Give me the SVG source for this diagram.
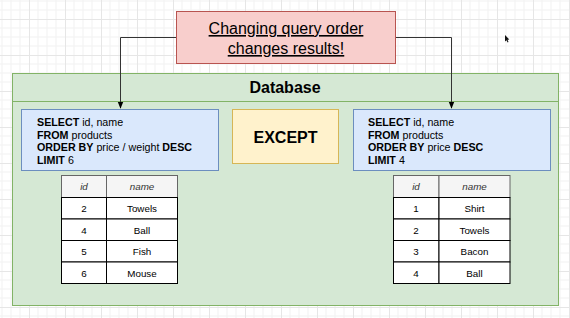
<svg xmlns="http://www.w3.org/2000/svg" width="570" height="318" viewBox="0 0 570 318">
  <defs>
    <pattern id="grid" x="29" y="19" width="36" height="36" patternUnits="userSpaceOnUse">
      <rect width="36" height="36" fill="#ffffff"/>
      <path d="M9 0V36M18 0V36M27 0V36M0 9H36M0 18H36M0 27H36" stroke="#f2f2f2" stroke-width="1" fill="none"/>
      <path d="M0.5 0V36M0 0.5H36" stroke="#e6e6e6" stroke-width="1" fill="none"/>
    </pattern>
    <marker id="arrow" viewBox="0 0 10 10" refX="9" refY="5" markerWidth="7" markerHeight="7" orient="auto">
      <path d="M0 1L10 5L0 9Z" fill="#000"/>
    </marker>
    <style>
      .sans { font-family: "Liberation Sans", Arial, Helvetica, sans-serif; }
      .sql { font-size: 10.7px; fill: #000; }
      .sql .kw { font-weight: bold; }
      .hdr { fill: #f5f5f5; stroke: #666666; stroke-width: 1; }
      .cell { fill: #ffffff; stroke: #000000; stroke-width: 1; }
      .th { font-size: 9.8px; font-style: italic; fill: #333333; text-anchor: middle; }
      .td { font-size: 9.8px; fill: #000000; text-anchor: middle; }
      .query { fill: #dae8fc; stroke: #6c8ebf; stroke-width: 1; }
    </style>
  </defs>

  <rect width="570" height="318" fill="url(#grid)"/>

  <!-- Database container -->
  <g id="database">
    <rect x="12.5" y="73.5" width="546" height="232" fill="#d5e8d4" stroke="#82b366" stroke-width="1"/>
    <line x1="12.5" y1="101.5" x2="558.5" y2="101.5" stroke="#82b366" stroke-width="1"/>
    <text x="285" y="93" class="sans" font-size="16" font-weight="bold" text-anchor="middle" fill="#000">Database</text>
  </g>

  <!-- Connectors -->
  <g id="connectors" fill="none" stroke="#333333" stroke-width="1">
    <path d="M176 37.5H120.5V108" marker-end="url(#arrow)"/>
    <path d="M395 37.5H451.5V108" marker-end="url(#arrow)"/>
  </g>

  <!-- Title note -->
  <g id="title">
    <rect x="176.5" y="11.5" width="219" height="52" fill="#f8cecc" stroke="#b85450" stroke-width="1"/>
    <text class="sans" font-size="16" text-anchor="middle" fill="#000" text-decoration="underline"><tspan x="286" y="34">Changing query order</tspan><tspan x="286" y="54">changes results!</tspan></text>
  </g>

  <!-- Left query -->
  <g id="query-left">
    <rect class="query" x="21.5" y="109.5" width="197" height="61"/>
    <text class="sans sql" x="37" y="126"><tspan class="kw">SELECT</tspan> id, name</text>
    <text class="sans sql" x="37" y="138.5"><tspan class="kw">FROM</tspan> products</text>
    <text class="sans sql" x="37" y="151"><tspan class="kw">ORDER BY</tspan> price / weight <tspan class="kw">DESC</tspan></text>
    <text class="sans sql" x="37" y="163.5"><tspan class="kw">LIMIT</tspan> 6</text>
  </g>

  <!-- EXCEPT operator -->
  <g id="except">
    <rect x="232.5" y="109.5" width="106" height="54" fill="#fff2cc" stroke="#d6b656" stroke-width="1"/>
    <text x="285.5" y="143" class="sans" font-size="16" font-weight="bold" text-anchor="middle" fill="#000">EXCEPT</text>
  </g>

  <!-- Right query -->
  <g id="query-right">
    <rect class="query" x="353.5" y="109.5" width="197" height="61"/>
    <text class="sans sql" x="368" y="126"><tspan class="kw">SELECT</tspan> id, name</text>
    <text class="sans sql" x="368" y="138.5"><tspan class="kw">FROM</tspan> products</text>
    <text class="sans sql" x="368" y="151"><tspan class="kw">ORDER BY</tspan> price <tspan class="kw">DESC</tspan></text>
    <text class="sans sql" x="368" y="163.5"><tspan class="kw">LIMIT</tspan> 4</text>
  </g>

  <!-- Left result table -->
  <g id="table-left" class="sans">
    <rect class="hdr" x="61.5" y="175.5" width="45" height="22"/>
    <rect class="hdr" x="106.5" y="175.5" width="71" height="22"/>
    <rect class="cell" x="61.5" y="197.5" width="45" height="21.5"/>
    <rect class="cell" x="106.5" y="197.5" width="71" height="21.5"/>
    <rect class="cell" x="61.5" y="219" width="45" height="21.5"/>
    <rect class="cell" x="106.5" y="219" width="71" height="21.5"/>
    <rect class="cell" x="61.5" y="240.5" width="45" height="21.5"/>
    <rect class="cell" x="106.5" y="240.5" width="71" height="21.5"/>
    <rect class="cell" x="61.5" y="262" width="45" height="21.5"/>
    <rect class="cell" x="106.5" y="262" width="71" height="21.5"/>
    <text class="th" x="84" y="190">id</text>
    <text class="th" x="142" y="190">name</text>
    <text class="td" x="84" y="212">2</text>
    <text class="td" x="142" y="212">Towels</text>
    <text class="td" x="84" y="233.5">4</text>
    <text class="td" x="142" y="233.5">Ball</text>
    <text class="td" x="84" y="255">5</text>
    <text class="td" x="142" y="255">Fish</text>
    <text class="td" x="84" y="276.5">6</text>
    <text class="td" x="142" y="276.5">Mouse</text>
  </g>

  <!-- Right result table -->
  <g id="table-right" class="sans">
    <rect class="hdr" x="393.5" y="175.5" width="45.5" height="22"/>
    <rect class="hdr" x="439" y="175.5" width="71" height="22"/>
    <rect class="cell" x="393.5" y="197.5" width="45.5" height="21.5"/>
    <rect class="cell" x="439" y="197.5" width="71" height="21.5"/>
    <rect class="cell" x="393.5" y="219" width="45.5" height="21.5"/>
    <rect class="cell" x="439" y="219" width="71" height="21.5"/>
    <rect class="cell" x="393.5" y="240.5" width="45.5" height="21.5"/>
    <rect class="cell" x="439" y="240.5" width="71" height="21.5"/>
    <rect class="cell" x="393.5" y="262" width="45.5" height="21.5"/>
    <rect class="cell" x="439" y="262" width="71" height="21.5"/>
    <text class="th" x="416" y="190">id</text>
    <text class="th" x="474.5" y="190">name</text>
    <text class="td" x="416" y="212">1</text>
    <text class="td" x="474.5" y="212">Shirt</text>
    <text class="td" x="416" y="233.5">2</text>
    <text class="td" x="474.5" y="233.5">Towels</text>
    <text class="td" x="416" y="255">3</text>
    <text class="td" x="474.5" y="255">Bacon</text>
    <text class="td" x="416" y="276.5">4</text>
    <text class="td" x="474.5" y="276.5">Ball</text>
  </g>

  <!-- Mouse pointer -->
  <path d="M505 35L505 41.5L506.5 40.2L507.6 42.5L508.5 42L507.5 39.8L509.3 39.6Z" fill="#111"/>
</svg>
